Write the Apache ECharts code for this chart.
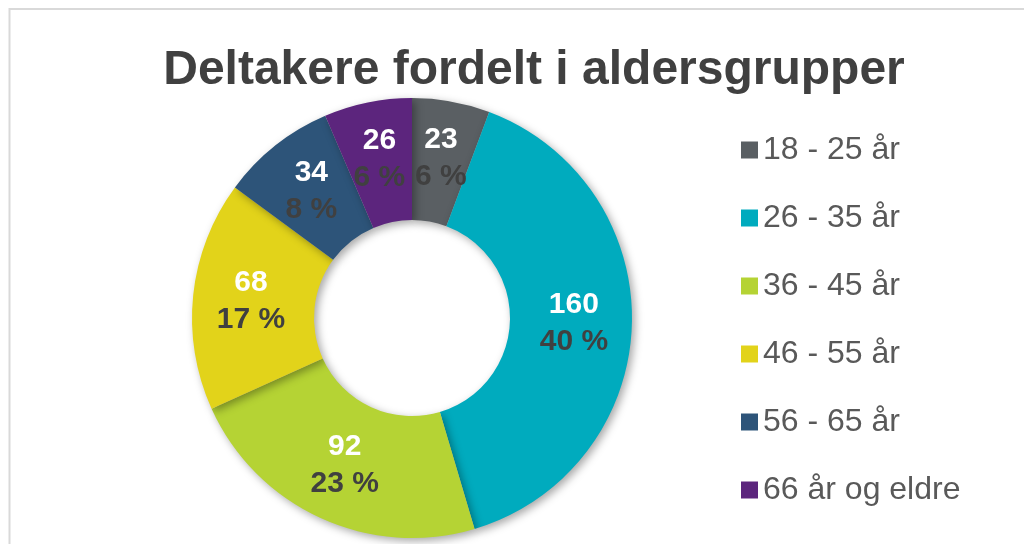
<!DOCTYPE html>
<html>
<head>
<meta charset="utf-8">
<script src="https://cdn.jsdelivr.net/npm/echarts@6/dist/echarts.min.js"></script>
<style>
  html, body { margin: 0; padding: 0; background: #fff; }
  #piechart { width: 1024px; height: 544px; }
</style>
</head>
<body>
<div id="piechart"></div>
<script>
var categories = ['18 - 25 år', '26 - 35 år', '36 - 45 år', '46 - 55 år', '56 - 65 år', '66 år og eldre'];
var counts = [23, 160, 92, 68, 34, 26];
var colors = ['#5a5f63', '#00abbe', '#b5d334', '#e2d31a', '#2d5479', '#5c257d'];

var chartDom = document.getElementById('piechart');
var myChart = echarts.init(chartDom);
var option;

var total = counts.reduce(function (a, b) { return a + b; }, 0);

option = {
    animation: false,
    title: {
        text: 'Deltakere fordelt i aldersgrupper',
        left: 529,
        textAlign: 'center',
        top: 42,
        textStyle: {
            fontFamily: 'Liberation Sans, Arial, sans-serif',
            fontSize: 48,
            fontWeight: 'bold',
            color: '#404040'
        }
    },
    graphic: [{
        type: 'rect',
        shape: { x: 9.5, y: 9, width: 1100, height: 600 },
        style: { fill: 'none', stroke: '#d9d9d9', lineWidth: 2 },
        silent: true
    }],
    legend: {
        orient: 'vertical',
        left: 736,
        top: 128,
        icon: 'rect',
        itemWidth: 17,
        itemHeight: 17,
        itemGap: 34,
        data: categories,
        textStyle: {
            fontFamily: 'Liberation Sans, Arial, sans-serif',
            fontSize: 32,
            lineHeight: 34,
            color: '#595959'
        }
    },
    series: [
        {
            name: 'Deltakere',
            type: 'pie',
            center: [412, 318],
            radius: [98, 220],
            startAngle: 90,
            clockwise: true,
            color: colors,
            itemStyle: {
                shadowBlur: 8,
                shadowOffsetX: 3,
                shadowOffsetY: 3,
                shadowColor: 'rgba(0, 0, 0, 0.35)'
            },
            label: {
                position: 'inside',
                fontFamily: 'Liberation Sans, Arial, sans-serif',
                formatter: function (p) {
                    return '{v|' + p.value + '}\n{p|' + Math.round(p.value / total * 100) + ' %}';
                },
                rich: {
                    v: {
                        color: '#ffffff',
                        fontSize: 30,
                        fontWeight: 'bold',
                        lineHeight: 37,
                        fontFamily: 'Liberation Sans, Arial, sans-serif'
                    },
                    p: {
                        color: '#404040',
                        fontSize: 30,
                        fontWeight: 'bold',
                        lineHeight: 37,
                        fontFamily: 'Liberation Sans, Arial, sans-serif'
                    }
                }
            },
            labelLine: { show: false },
            emphasis: { disabled: true },
            data: categories.map(function (name, i) {
                return { name: name, value: counts[i] };
            })
        }
    ]
};

option && myChart.setOption(option);
window.addEventListener('resize', function () {
    myChart.resize();
});
</script>
</body>
</html>
